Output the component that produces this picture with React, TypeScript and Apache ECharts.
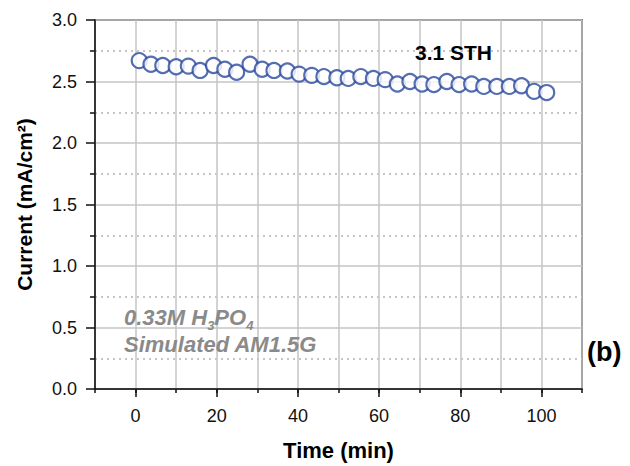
import React, { useEffect, useRef } from "react";
import * as echarts from "echarts";

const timeMin: number[] = [
  0.9, 3.8, 6.7, 10.0, 13.0, 15.9, 19.2, 22.0, 24.9, 28.2, 31.2, 34.1, 37.4, 40.3, 43.4, 46.4, 49.6,
  52.4, 55.5, 58.6, 61.5, 64.5, 67.6, 70.6, 73.5, 76.7, 79.7, 82.8, 85.8, 89.0, 92.1, 95.1, 98.2, 101.3,
];
const currentVals: number[] = [
  2.67, 2.64, 2.63, 2.62, 2.625, 2.59, 2.63, 2.6, 2.575, 2.64, 2.6, 2.59, 2.585, 2.56, 2.55, 2.54, 2.53,
  2.525, 2.54, 2.525, 2.515, 2.48, 2.5, 2.48, 2.475, 2.5, 2.475, 2.48, 2.46, 2.46, 2.46, 2.465, 2.42, 2.41,
];
const xLabelValues: number[] = [0, 20, 40, 60, 80, 100];
const yTickLabels: string[] = ["0.0", "0.5", "1.0", "1.5", "2.0", "2.5", "3.0"];

const FONT = "'Liberation Sans', Arial, Helvetica, sans-serif";

export default function App() {
  const ref = useRef<HTMLDivElement>(null);
  useEffect(() => {
    if (!ref.current) return;
    const chart = echarts.init(ref.current, null, { renderer: "svg" });
    const data = timeMin.map((t, i) => [t, currentVals[i]]);
    chart.setOption({
      animation: false,
      backgroundColor: "#ffffff",
      textStyle: { fontFamily: FONT },
      grid: {
        left: 95,
        right: 48,
        top: 20,
        bottom: 71.5,
        show: true,
        borderColor: "#111111",
        borderWidth: 1.5,
        backgroundColor: "transparent",
      },
      xAxis: [
        {
          type: "value",
          min: -10,
          max: 110,
          interval: 10,
          name: "Time (min)",
          nameLocation: "middle",
          nameGap: 50,
          nameTextStyle: { fontSize: 22, fontWeight: "bold", color: "#000", fontFamily: FONT },
          axisLine: { show: true, onZero: false, lineStyle: { color: "#111", width: 1.5 } },
          axisTick: { show: true, inside: false, length: 4, lineStyle: { color: "#111", width: 1.5 } },
          axisLabel: {
            show: true,
            customValues: xLabelValues,
            margin: 18,
            fontSize: 18,
            color: "#111",
            fontFamily: FONT,
          },
          splitLine: { show: true, lineStyle: { color: "#c4c4c4", width: 1.5, type: "solid" } },
        },
        {
          type: "value",
          min: -10,
          max: 110,
          interval: 10,
          position: "bottom",
          axisLine: { show: false, onZero: false },
          axisTick: {
            show: true,
            inside: false,
            customValues: xLabelValues,
            length: 8,
            lineStyle: { color: "#111", width: 1.5 },
          },
          axisLabel: { show: false },
          splitLine: { show: false },
        },
      ],
      yAxis: {
        type: "value",
        min: 0,
        max: 3,
        interval: 0.5,
        name: "Current (mA/cm²)",
        nameLocation: "middle",
        nameGap: 60,
        nameTextStyle: { fontSize: 21, fontWeight: "bold", color: "#000", fontFamily: FONT },
        axisLine: { show: true, onZero: false, lineStyle: { color: "#111", width: 1.5 } },
        axisTick: { show: true, inside: false, length: 9, lineStyle: { color: "#111", width: 1.5 } },
        minorTick: { show: true, splitNumber: 2, length: 5, lineStyle: { color: "#111", width: 1.5 } },
        axisLabel: {
          margin: 18,
          fontSize: 18,
          color: "#111",
          fontFamily: FONT,
          formatter: (v: number) => yTickLabels[Math.round(v / 0.5)] ?? v.toFixed(1),
        },
        splitLine: { show: true, lineStyle: { color: "#c4c4c4", width: 1.5, type: "solid" } },
        minorSplitLine: { show: true, lineStyle: { color: "#b4b4b4", width: 1.5, type: [2, 4] } },
      },
      series: [
        {
          type: "scatter",
          data,
          symbol: "circle",
          symbolSize: 15,
          itemStyle: { color: "#ffffff", borderColor: "#2b4a9f", borderWidth: 2.2 },
          z: 5,
        },
      ],
      graphic: [
        {
          type: "text",
          left: 415,
          top: 42,
          style: { text: "3.1 STH", font: `bold 21px ${FONT}`, fill: "#000" },
          z: 10,
        },
        {
          type: "text",
          left: 124,
          top: 306,
          style: {
            text: "{a|0.33M H}{s|3}{a|PO}{s|4}",
            fill: "#8a8a8a",
            rich: {
              a: { fontSize: 22, fontWeight: "bold", fontStyle: "italic", fontFamily: FONT, fill: "#8a8a8a", lineHeight: 26, verticalAlign: "bottom" },
              s: { fontSize: 13, fontWeight: "bold", fontStyle: "italic", fontFamily: FONT, fill: "#8a8a8a", lineHeight: 17, padding: [0, 0, -4, 0], verticalAlign: "bottom" },
            },
          },
          z: 10,
        },
        {
          type: "text",
          left: 124,
          top: 333,
          style: {
            text: "Simulated AM1.5G",
            font: `italic bold 22px ${FONT}`,
            fill: "#8a8a8a",
          },
          z: 10,
        },
        {
          type: "text",
          left: 587,
          top: 338,
          style: { text: "(b)", font: `bold 27px ${FONT}`, fill: "#000" },
          z: 10,
        },
      ],
    });
    return () => chart.dispose();
  }, []);
  return <div ref={ref} style={{ width: 630, height: 466, position: "absolute", left: 0, top: 0 }} />;
}
